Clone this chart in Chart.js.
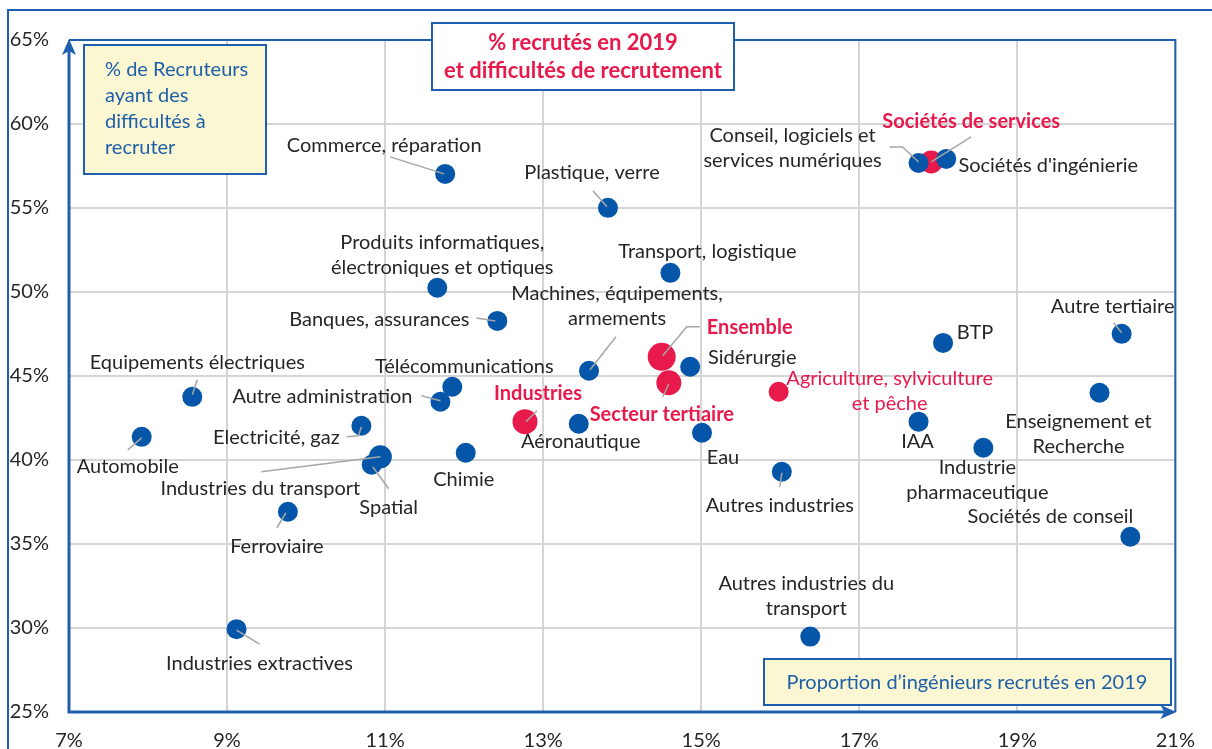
<!DOCTYPE html>
<html>
<head>
  <title>% recrutés en 2019 et difficultés de recrutement</title>
  <script src="https://cdn.jsdelivr.net/npm/chart.js"></script>
  <style>
    html, body { margin: 0; padding: 0; background: #fff; }
    canvas { display: block; }
  </style>
</head>
<body>
  <canvas id="myChart" width="1212" height="749"></canvas>

  <script>
    // secteurs (points bleus) : % d'ingénieurs recrutés en 2019 / % de recruteurs en difficulté
    const sectorNames = [
      'Automobile', 'Equipements électriques', 'Industries extractives', 'Ferroviaire',
      'Electricité, gaz', 'Spatial', 'Industries du transport', 'Autre administration',
      'Télécommunications', 'Chimie', 'Produits informatiques, électroniques et optiques',
      'Commerce, réparation', 'Banques, assurances', 'Aéronautique',
      'Machines, équipements, armements', 'Plastique, verre', 'Transport, logistique',
      'Sidérurgie', 'Eau', 'Autres industries', 'Autres industries du transport', 'IAA',
      'Conseil, logiciels et services numériques', "Sociétés d'ingénierie", 'BTP',
      'Industrie pharmaceutique', 'Enseignement et Recherche', 'Autre tertiaire',
      'Sociétés de conseil'
    ];
    const sectorRecruited = [
      7.92, 8.56, 9.12, 9.77, 10.70, 10.83, 10.94, 11.70, 11.85, 12.02, 11.66,
      11.76, 12.42, 13.45, 13.58, 13.82, 14.61, 14.86, 15.01, 16.02, 16.38, 17.75,
      17.75, 18.10, 18.06, 18.57, 20.04, 20.32, 20.43
    ];
    const sectorDifficulty = [
      41.38, 43.76, 29.93, 36.92, 42.04, 39.72, 40.19, 43.47, 44.36, 40.43, 50.25,
      57.03, 48.28, 42.16, 45.31, 55.01, 51.14, 45.55, 41.62, 39.30, 29.49, 42.28,
      57.68, 57.92, 46.97, 40.73, 44.00, 47.51, 35.43
    ];

    // agrégats (points rouges)
    const overallNames = ['Industries', 'Ensemble', 'Secteur tertiaire', 'Agriculture, sylviculture et pêche', 'Sociétés de services'];
    const overallRecruited = [12.77, 14.50, 14.59, 15.98, 17.91];
    const overallDifficulty = [42.28, 46.14, 44.60, 44.06, 57.74];

    const xTickValues = [7, 9, 11, 13, 15, 17, 19, 21];
    const yTickValues = [25, 30, 35, 40, 45, 50, 55, 60, 65];

    const BLUE = '#0556A8';
    const RED = '#E8194B';
    const FRAME = '#1F5FAF';
    const FONT = 'Lato, "Open Sans", sans-serif';

    // taille des points qui ne sont pas standard
    const pointSize = {
      'Industries du transport': 11.5,
      'Industries': 12.5, 'Ensemble': 14, 'Secteur tertiaire': 12.5,
      'Agriculture, sylviculture et pêche': 10, 'Sociétés de services': 11.5
    };

    // position des étiquettes : centre du texte par rapport au point (px) + trait de rappel
    const labelLayout = {
      'Automobile': { dx: -14, dy: 30, leader: [[-14, 13], [0, 1]] },
      'Equipements électriques': { dx: 5, dy: -34, leader: [[5, -17], [0, -2]] },
      'Industries extractives': { dx: 23, dy: 34, leader: [[23, 15], [0, 1]] },
      'Ferroviaire': { dx: -11, dy: 35, leader: [[-11, 16], [-2, 1]] },
      'Electricité, gaz': { dx: -85, dy: 12, leader: [[-15, 11], [-3, 10], [0, 1]] },
      'Spatial': { dx: 17, dy: 43, leader: [[17, 24], [1, 2]] },
      'Industries du transport': { dx: -120, dy: 32, leader: [[-119, 15], [0, 0]] },
      'Autre administration': { dx: -118, dy: -5, leader: [[-19, -6], [0, -1]] },
      'Télécommunications': { dx: 12, dy: -20 },
      'Chimie': { dx: -2, dy: 27 },
      'Produits informatiques, électroniques et optiques': { dx: 5, dy: -32.5, lines: ['Produits informatiques,', 'électroniques et optiques'] },
      'Commerce, réparation': { dx: -61, dy: -28, leader: [[-55, -17], [-1, 0]] },
      'Banques, assurances': { dx: -118, dy: -1, leader: [[-21, -3], [-2, 0]] },
      'Aéronautique': { dx: 2, dy: 18 },
      'Machines, équipements, armements': { dx: 28, dy: -64.5, lines: ['Machines, équipements,', 'armements'], leader: [[27, -34], [1, -1]] },
      'Plastique, verre': { dx: -16, dy: -35, leader: [[-15, -17], [-1, -1]] },
      'Transport, logistique': { dx: 37, dy: -21 },
      'Sidérurgie': { dx: 62, dy: -9 },
      'Eau': { dx: 21, dy: 25 },
      'Autres industries': { dx: -2, dy: 34, leader: [[-2, 15], [0, 1]] },
      'Autres industries du transport': { dx: -4, dy: -40.5, lines: ['Autres industries du', 'transport'] },
      'IAA': { dx: -1, dy: 20 },
      'Conseil, logiciels et services numériques': { dx: -126, dy: -14.5, lines: ['Conseil, logiciels et', 'services numériques'], leader: [[-29, -16], [-16, -16], [0, -1]] },
      "Sociétés d'ingénierie": { dx: 102, dy: 7 },
      'BTP': { dx: 32, dy: -10 },
      'Industrie pharmaceutique': { dx: -6, dy: 32.5, lines: ['Industrie', 'pharmaceutique'] },
      'Enseignement et Recherche': { dx: -21, dy: 41.5, lines: ['Enseignement et', 'Recherche'] },
      'Autre tertiaire': { dx: -9, dy: -27, leader: [[-8, -11], [0, -1]] },
      'Sociétés de conseil': { dx: -80, dy: -20 },
      'Industries': { dx: 13, dy: -28, bold: true, leader: [[12, -11], [1, 0]] },
      'Ensemble': { dx: 88, dy: -29, bold: true, leader: [[38, -30], [25, -30], [1, -1]] },
      'Secteur tertiaire': { dx: -7, dy: 32, bold: true, leader: [[-6, 14], [0, 1]] },
      'Agriculture, sylviculture et pêche': { dx: 111, dy: -1, lines: ['Agriculture, sylviculture', 'et pêche'] },
      'Sociétés de services': { dx: 40, dy: -40, bold: true, leader: [[40, -25], [0, 0]] }
    };

    function drawLines(ctx, lines, cx, cy, lh) {
      const top = cy - (lines.length - 1) * lh / 2;
      lines.forEach((t, k) => ctx.fillText(t, cx, top + k * lh));
    }

    function textBox(ctx, x, y, w, h, fill) {
      ctx.fillStyle = fill;
      ctx.fillRect(x, y, w, h);
      ctx.strokeStyle = FRAME;
      ctx.lineWidth = 2;
      ctx.strokeRect(x, y, w, h);
    }

    const decorations = {
      id: 'decorations',
      beforeDraw(chart) {
        const ctx = chart.ctx;
        ctx.save();
        ctx.strokeStyle = FRAME;
        ctx.lineWidth = 2;
        ctx.beginPath();
        ctx.moveTo(8, 760);
        ctx.lineTo(8, 10);
        ctx.lineTo(1220, 10);
        ctx.stroke();
        ctx.restore();
      },
      afterDraw(chart) {
        const ctx = chart.ctx;
        const a = chart.chartArea;
        ctx.save();

        // cadre de la zone de tracé
        ctx.strokeStyle = FRAME;
        ctx.lineWidth = 2;
        ctx.beginPath();
        ctx.moveTo(a.left, a.top);
        ctx.lineTo(a.right, a.top);
        ctx.lineTo(a.right, a.bottom);
        ctx.stroke();
        ctx.lineWidth = 3;
        ctx.beginPath();
        ctx.moveTo(a.left, a.top + 8);
        ctx.lineTo(a.left, a.bottom);
        ctx.lineTo(a.right - 8, a.bottom);
        ctx.stroke();

        // flèches des axes
        ctx.fillStyle = FRAME;
        ctx.beginPath();
        ctx.moveTo(a.left, a.top - 1);
        ctx.lineTo(a.left + 7, a.top + 15);
        ctx.lineTo(a.left, a.top + 11);
        ctx.lineTo(a.left - 7, a.top + 15);
        ctx.closePath();
        ctx.fill();
        ctx.beginPath();
        ctx.moveTo(a.right + 1, a.bottom);
        ctx.lineTo(a.right - 15, a.bottom + 7);
        ctx.lineTo(a.right - 11, a.bottom);
        ctx.lineTo(a.right - 15, a.bottom - 7);
        ctx.closePath();
        ctx.fill();

        // traits de rappel puis étiquettes
        const groups = [[sectorNames, 0], [overallNames, 1]];
        groups.forEach(([names, di]) => {
          const meta = chart.getDatasetMeta(di);
          names.forEach((name, j) => {
            const p = meta.data[j];
            const lay = labelLayout[name];
            if (!lay || !lay.leader) return;
            ctx.strokeStyle = '#A6A6A6';
            ctx.lineWidth = 1.5;
            ctx.beginPath();
            lay.leader.forEach(([lx, ly], k) => {
              if (k === 0) ctx.moveTo(p.x + lx, p.y + ly);
              else ctx.lineTo(p.x + lx, p.y + ly);
            });
            ctx.stroke();
          });
        });
        ctx.textAlign = 'center';
        ctx.textBaseline = 'middle';
        groups.forEach(([names, di]) => {
          const meta = chart.getDatasetMeta(di);
          names.forEach((name, j) => {
            const p = meta.data[j];
            const lay = labelLayout[name];
            if (!lay) return;
            ctx.fillStyle = di === 0 ? '#262626' : RED;
            ctx.font = (lay.bold ? 'bold ' : '') + '20px ' + FONT;
            drawLines(ctx, lay.lines || [name], p.x + lay.dx, p.y + lay.dy, 25);
          });
        });

        // titre
        textBox(ctx, 432, 23, 302, 67, '#FFFFFF');
        ctx.fillStyle = RED;
        ctx.font = 'bold 22px ' + FONT;
        drawLines(ctx, ['% recrutés en 2019', 'et difficultés de recrutement'], 583, 57, 28);

        // titre de l'axe vertical
        textBox(ctx, 84, 45, 182, 129, '#FAF7D2');
        ctx.fillStyle = '#1F5FAA';
        ctx.font = '20px ' + FONT;
        ctx.textAlign = 'left';
        drawLines(ctx, ['% de Recruteurs', 'ayant des', 'difficultés à', 'recruter'], 105, 108.5, 26);

        // titre de l'axe horizontal
        textBox(ctx, 764, 659, 407, 46, '#FAF7D2');
        ctx.fillStyle = '#1F5FAA';
        ctx.textAlign = 'center';
        ctx.fillText('Proportion d\u2019ingénieurs recrutés en 2019', 967, 683);

        ctx.restore();
      }
    };

    function toPoints(xs, ys) {
      return xs.map((x, i) => ({ x: x, y: ys[i] }));
    }

    const ctx = document.getElementById('myChart').getContext('2d');
    const chart = new Chart(ctx, {
      type: 'scatter',
      data: {
        datasets: [{
          label: 'Secteurs',
          data: toPoints(sectorRecruited, sectorDifficulty),
          backgroundColor: BLUE,
          borderWidth: 0,
          pointRadius: c => pointSize[sectorNames[c.dataIndex]] || 10
        }, {
          label: 'Agrégats',
          data: toPoints(overallRecruited, overallDifficulty),
          backgroundColor: RED,
          borderWidth: 0,
          pointRadius: c => pointSize[overallNames[c.dataIndex]] || 10
        }]
      },
      options: {
        responsive: false,
        animation: false,
        events: [],
        layout: { padding: { left: 0, top: 40, right: 32, bottom: 0 } },
        plugins: {
          legend: { display: false },
          tooltip: { enabled: false }
        },
        scales: {
          x: {
            type: 'linear',
            min: 7,
            max: 21,
            afterBuildTicks: s => { s.ticks = xTickValues.map(v => ({ value: v })); },
            afterFit: s => { s.height = 37; },
            grid: { color: '#D4D4D4', lineWidth: 2, drawTicks: false },
            border: { display: false },
            ticks: {
              padding: 17,
              color: '#262626',
              font: { family: FONT, size: 20 },
              maxRotation: 0,
              callback: v => v + '%'
            }
          },
          y: {
            type: 'linear',
            min: 25,
            max: 65,
            afterBuildTicks: s => { s.ticks = yTickValues.map(v => ({ value: v })); },
            afterFit: s => { s.width = 69; },
            grid: { color: '#D4D4D4', lineWidth: 2, drawTicks: false },
            border: { display: false },
            ticks: {
              padding: 20,
              color: '#262626',
              font: { family: FONT, size: 20 },
              callback: v => v + '%'
            }
          }
        }
      },
      plugins: [decorations]
    });
  </script>
</body>
</html>
